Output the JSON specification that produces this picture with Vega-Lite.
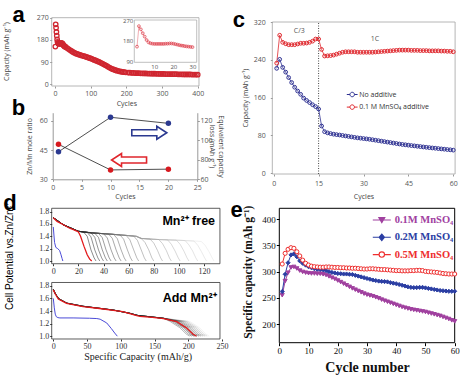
{
"$schema":"https://vega.github.io/schema/vega-lite/v6.json",
"width":472,"height":379,"padding":0,"autosize":{"type":"none"},
"background":"#ffffff",
"config":{"view":{"stroke":null},"axis":{"grid":false,"labelFlush":false,"labelOverlap":false,"domain":false}},
"datasets":{
"a":[{"c":1,"v":153},{"c":2,"v":243},{"c":3,"v":229},{"c":4,"v":212},{"c":5,"v":197},{"c":6,"v":182},{"c":7,"v":172},{"c":8,"v":168},{"c":9,"v":166},{"c":10,"v":165},{"c":11,"v":165},{"c":12,"v":165},{"c":13,"v":165},{"c":14,"v":165},{"c":15,"v":165},{"c":16,"v":166},{"c":17,"v":166},{"c":18,"v":167},{"c":19,"v":167},{"c":20,"v":166},{"c":21,"v":164},{"c":22,"v":162},{"c":23,"v":160},{"c":24,"v":158},{"c":25,"v":157},{"c":26,"v":155},{"c":27,"v":154},{"c":28,"v":153},{"c":29,"v":152},{"c":30,"v":151},{"c":34,"v":147},{"c":38,"v":143},{"c":42,"v":139},{"c":46,"v":135},{"c":50,"v":131},{"c":54,"v":128},{"c":58,"v":125},{"c":62,"v":123},{"c":66,"v":121},{"c":70,"v":119},{"c":74,"v":117},{"c":78,"v":115.5},{"c":82,"v":114},{"c":86,"v":112},{"c":90,"v":110},{"c":94,"v":108},{"c":98,"v":106},{"c":102,"v":104},{"c":106,"v":101.5},{"c":110,"v":99},{"c":114,"v":96.5},{"c":118,"v":94},{"c":122,"v":91.5},{"c":126,"v":89},{"c":130,"v":86},{"c":134,"v":83},{"c":138,"v":80},{"c":142,"v":77},{"c":146,"v":74},{"c":150,"v":70},{"c":154,"v":67},{"c":158,"v":64},{"c":162,"v":61.5},{"c":166,"v":59},{"c":170,"v":57},{"c":174,"v":55},{"c":178,"v":53.5},{"c":182,"v":52},{"c":186,"v":51},{"c":190,"v":50},{"c":194,"v":49},{"c":198,"v":48.5},{"c":205,"v":47.5},{"c":210,"v":47},{"c":215,"v":46.5},{"c":220,"v":46},{"c":225,"v":45.5},{"c":230,"v":45},{"c":235,"v":45},{"c":240,"v":44.5},{"c":245,"v":44.5},{"c":250,"v":44},{"c":255,"v":44},{"c":260,"v":43.5},{"c":265,"v":43.5},{"c":270,"v":43},{"c":275,"v":43},{"c":280,"v":43},{"c":285,"v":42.5},{"c":290,"v":42.5},{"c":295,"v":42},{"c":300,"v":42},{"c":305,"v":42},{"c":310,"v":41.5},{"c":315,"v":41.5},{"c":320,"v":41.5},{"c":325,"v":41},{"c":330,"v":41},{"c":335,"v":41},{"c":340,"v":41},{"c":345,"v":40.5},{"c":350,"v":40.5},{"c":355,"v":40.5},{"c":360,"v":40},{"c":365,"v":40},{"c":370,"v":40},{"c":375,"v":40},{"c":380,"v":40},{"c":385,"v":39.5},{"c":390,"v":39.5},{"c":395,"v":39.5},{"c":400,"v":39}],
"b":[{"n":1,"z":47.9,"l":88.1},{"n":10,"z":34.8,"l":123.5},{"n":20,"z":35.2,"l":117.3}],
"c":[{"n":1,"v":222,"s":"N"},{"n":2,"v":241,"s":"N"},{"n":3,"v":224,"s":"N"},{"n":4,"v":214,"s":"N"},{"n":5,"v":202.5,"s":"N"},{"n":6,"v":192,"s":"N"},{"n":7,"v":182,"s":"N"},{"n":8,"v":174,"s":"N"},{"n":9,"v":167,"s":"N"},{"n":10,"v":159,"s":"N"},{"n":11,"v":154,"s":"N"},{"n":12,"v":149.6,"s":"N"},{"n":13,"v":145,"s":"N"},{"n":14,"v":141,"s":"N"},{"n":15,"v":136,"s":"N"},{"n":16,"v":100,"s":"N"},{"n":17,"v":88,"s":"N"},{"n":18,"v":85.5,"s":"N"},{"n":19,"v":84,"s":"N"},{"n":20,"v":82.7,"s":"N"},{"n":21,"v":81.8,"s":"N"},{"n":22,"v":81,"s":"N"},{"n":23,"v":80,"s":"N"},{"n":24,"v":79,"s":"N"},{"n":25,"v":78,"s":"N"},{"n":26,"v":77,"s":"N"},{"n":27,"v":76,"s":"N"},{"n":28,"v":75,"s":"N"},{"n":29,"v":74.3,"s":"N"},{"n":30,"v":73.5,"s":"N"},{"n":31,"v":72.8,"s":"N"},{"n":32,"v":72,"s":"N"},{"n":33,"v":71,"s":"N"},{"n":34,"v":70,"s":"N"},{"n":35,"v":69,"s":"N"},{"n":36,"v":68,"s":"N"},{"n":37,"v":67,"s":"N"},{"n":38,"v":66,"s":"N"},{"n":39,"v":65,"s":"N"},{"n":40,"v":64,"s":"N"},{"n":41,"v":63,"s":"N"},{"n":42,"v":62,"s":"N"},{"n":43,"v":61,"s":"N"},{"n":44,"v":60.3,"s":"N"},{"n":45,"v":59.5,"s":"N"},{"n":46,"v":58.7,"s":"N"},{"n":47,"v":58,"s":"N"},{"n":48,"v":57.2,"s":"N"},{"n":49,"v":56.5,"s":"N"},{"n":50,"v":55.7,"s":"N"},{"n":51,"v":55,"s":"N"},{"n":52,"v":54.3,"s":"N"},{"n":53,"v":53.6,"s":"N"},{"n":54,"v":53,"s":"N"},{"n":55,"v":52.3,"s":"N"},{"n":56,"v":51.6,"s":"N"},{"n":57,"v":51,"s":"N"},{"n":58,"v":50.3,"s":"N"},{"n":59,"v":49.7,"s":"N"},{"n":60,"v":49,"s":"N"},
{"n":1,"v":233,"s":"M"},{"n":2,"v":292,"s":"M"},{"n":3,"v":277,"s":"M"},{"n":4,"v":274,"s":"M"},{"n":5,"v":272,"s":"M"},{"n":6,"v":272,"s":"M"},{"n":7,"v":272,"s":"M"},{"n":8,"v":273.5,"s":"M"},{"n":9,"v":275,"s":"M"},{"n":10,"v":275,"s":"M"},{"n":11,"v":275.5,"s":"M"},{"n":12,"v":277,"s":"M"},{"n":13,"v":279.5,"s":"M"},{"n":14,"v":284,"s":"M"},{"n":15,"v":284,"s":"M"},{"n":16,"v":262,"s":"M"},{"n":17,"v":248,"s":"M"},{"n":18,"v":248.5,"s":"M"},{"n":19,"v":249,"s":"M"},{"n":20,"v":250,"s":"M"},{"n":21,"v":252,"s":"M"},{"n":22,"v":254,"s":"M"},{"n":23,"v":256,"s":"M"},{"n":24,"v":257,"s":"M"},{"n":25,"v":257,"s":"M"},{"n":26,"v":257,"s":"M"},{"n":27,"v":257,"s":"M"},{"n":28,"v":256,"s":"M"},{"n":29,"v":256,"s":"M"},{"n":30,"v":256,"s":"M"},{"n":31,"v":256,"s":"M"},{"n":32,"v":256,"s":"M"},{"n":33,"v":256,"s":"M"},{"n":34,"v":256.5,"s":"M"},{"n":35,"v":257,"s":"M"},{"n":36,"v":257.5,"s":"M"},{"n":37,"v":258,"s":"M"},{"n":38,"v":258.5,"s":"M"},{"n":39,"v":259,"s":"M"},{"n":40,"v":259.5,"s":"M"},{"n":41,"v":260,"s":"M"},{"n":42,"v":260.5,"s":"M"},{"n":43,"v":260.5,"s":"M"},{"n":44,"v":260.5,"s":"M"},{"n":45,"v":260.5,"s":"M"},{"n":46,"v":260,"s":"M"},{"n":47,"v":260,"s":"M"},{"n":48,"v":260,"s":"M"},{"n":49,"v":259.5,"s":"M"},{"n":50,"v":259.5,"s":"M"},{"n":51,"v":259.5,"s":"M"},{"n":52,"v":259,"s":"M"},{"n":53,"v":259,"s":"M"},{"n":54,"v":259,"s":"M"},{"n":55,"v":259,"s":"M"},{"n":56,"v":258.5,"s":"M"},{"n":57,"v":258.5,"s":"M"},{"n":58,"v":258,"s":"M"},{"n":59,"v":258,"s":"M"},{"n":60,"v":257,"s":"M"}],
"e":[{"n":1,"v":255,"s":"s1"},{"n":2,"v":282,"s":"s1"},{"n":3,"v":298,"s":"s1"},{"n":4,"v":308,"s":"s1"},{"n":5,"v":309,"s":"s1"},{"n":6,"v":306,"s":"s1"},{"n":7,"v":302,"s":"s1"},{"n":8,"v":299.5,"s":"s1"},{"n":9,"v":298,"s":"s1"},{"n":10,"v":297,"s":"s1"},{"n":11,"v":296.5,"s":"s1"},{"n":12,"v":296.5,"s":"s1"},{"n":13,"v":296,"s":"s1"},{"n":14,"v":296,"s":"s1"},{"n":15,"v":295,"s":"s1"},{"n":16,"v":293.5,"s":"s1"},{"n":17,"v":291,"s":"s1"},{"n":18,"v":288.5,"s":"s1"},{"n":19,"v":286,"s":"s1"},{"n":20,"v":283,"s":"s1"},{"n":21,"v":280,"s":"s1"},{"n":22,"v":277,"s":"s1"},{"n":23,"v":274,"s":"s1"},{"n":24,"v":271,"s":"s1"},{"n":25,"v":268,"s":"s1"},{"n":26,"v":265.5,"s":"s1"},{"n":27,"v":263,"s":"s1"},{"n":28,"v":260.5,"s":"s1"},{"n":29,"v":258,"s":"s1"},{"n":30,"v":256,"s":"s1"},{"n":31,"v":254.5,"s":"s1"},{"n":32,"v":253,"s":"s1"},{"n":33,"v":251,"s":"s1"},{"n":34,"v":249,"s":"s1"},{"n":35,"v":246.5,"s":"s1"},{"n":36,"v":244.5,"s":"s1"},{"n":37,"v":242.5,"s":"s1"},{"n":38,"v":240.5,"s":"s1"},{"n":39,"v":238.5,"s":"s1"},{"n":40,"v":236.5,"s":"s1"},{"n":41,"v":234.5,"s":"s1"},{"n":42,"v":232.5,"s":"s1"},{"n":43,"v":231,"s":"s1"},{"n":44,"v":229.5,"s":"s1"},{"n":45,"v":228,"s":"s1"},{"n":46,"v":227,"s":"s1"},{"n":47,"v":226,"s":"s1"},{"n":48,"v":225,"s":"s1"},{"n":49,"v":224,"s":"s1"},{"n":50,"v":223,"s":"s1"},{"n":51,"v":221.5,"s":"s1"},{"n":52,"v":220,"s":"s1"},{"n":53,"v":218.5,"s":"s1"},{"n":54,"v":217,"s":"s1"},{"n":55,"v":215.5,"s":"s1"},{"n":56,"v":213.5,"s":"s1"},{"n":57,"v":211.5,"s":"s1"},{"n":58,"v":209.5,"s":"s1"},{"n":59,"v":207,"s":"s1"},{"n":60,"v":205,"s":"s1"},
{"n":1,"v":262,"s":"s2"},{"n":2,"v":295,"s":"s2"},{"n":3,"v":317,"s":"s2"},{"n":4,"v":332,"s":"s2"},{"n":5,"v":334,"s":"s2"},{"n":6,"v":328.5,"s":"s2"},{"n":7,"v":320.5,"s":"s2"},{"n":8,"v":316,"s":"s2"},{"n":9,"v":312.5,"s":"s2"},{"n":10,"v":309.5,"s":"s2"},{"n":11,"v":307.5,"s":"s2"},{"n":12,"v":305.5,"s":"s2"},{"n":13,"v":304.5,"s":"s2"},{"n":14,"v":304,"s":"s2"},{"n":15,"v":303.5,"s":"s2"},{"n":16,"v":302,"s":"s2"},{"n":17,"v":300,"s":"s2"},{"n":18,"v":298.5,"s":"s2"},{"n":19,"v":297.5,"s":"s2"},{"n":20,"v":296.5,"s":"s2"},{"n":21,"v":296,"s":"s2"},{"n":22,"v":295.5,"s":"s2"},{"n":23,"v":295.5,"s":"s2"},{"n":24,"v":295,"s":"s2"},{"n":25,"v":294.5,"s":"s2"},{"n":26,"v":293,"s":"s2"},{"n":27,"v":291.5,"s":"s2"},{"n":28,"v":290,"s":"s2"},{"n":29,"v":288.5,"s":"s2"},{"n":30,"v":287,"s":"s2"},{"n":31,"v":285.5,"s":"s2"},{"n":32,"v":284,"s":"s2"},{"n":33,"v":283,"s":"s2"},{"n":34,"v":282,"s":"s2"},{"n":35,"v":281.5,"s":"s2"},{"n":36,"v":281,"s":"s2"},{"n":37,"v":280.5,"s":"s2"},{"n":38,"v":279,"s":"s2"},{"n":39,"v":278,"s":"s2"},{"n":40,"v":277,"s":"s2"},{"n":41,"v":275.5,"s":"s2"},{"n":42,"v":274,"s":"s2"},{"n":43,"v":272.5,"s":"s2"},{"n":44,"v":271,"s":"s2"},{"n":45,"v":270,"s":"s2"},{"n":46,"v":269.5,"s":"s2"},{"n":47,"v":269.5,"s":"s2"},{"n":48,"v":270,"s":"s2"},{"n":49,"v":270,"s":"s2"},{"n":50,"v":269,"s":"s2"},{"n":51,"v":268,"s":"s2"},{"n":52,"v":267,"s":"s2"},{"n":53,"v":266,"s":"s2"},{"n":54,"v":265,"s":"s2"},{"n":55,"v":264,"s":"s2"},{"n":56,"v":263.5,"s":"s2"},{"n":57,"v":263,"s":"s2"},{"n":58,"v":262.5,"s":"s2"},{"n":59,"v":262.5,"s":"s2"},{"n":60,"v":262.5,"s":"s2"},
{"n":1,"v":314.6,"s":"s5"},{"n":2,"v":335,"s":"s5"},{"n":3,"v":342.7,"s":"s5"},{"n":4,"v":345.8,"s":"s5"},{"n":5,"v":344.6,"s":"s5"},{"n":6,"v":338,"s":"s5"},{"n":7,"v":330,"s":"s5"},{"n":8,"v":322,"s":"s5"},{"n":9,"v":316,"s":"s5"},{"n":10,"v":312.7,"s":"s5"},{"n":11,"v":310.5,"s":"s5"},{"n":12,"v":309.5,"s":"s5"},{"n":13,"v":309,"s":"s5"},{"n":14,"v":308.5,"s":"s5"},{"n":15,"v":308.5,"s":"s5"},{"n":16,"v":309,"s":"s5"},{"n":17,"v":309,"s":"s5"},{"n":18,"v":308.5,"s":"s5"},{"n":19,"v":308,"s":"s5"},{"n":20,"v":308,"s":"s5"},{"n":21,"v":307.5,"s":"s5"},{"n":22,"v":307.5,"s":"s5"},{"n":23,"v":307,"s":"s5"},{"n":24,"v":307,"s":"s5"},{"n":25,"v":306.5,"s":"s5"},{"n":26,"v":306.5,"s":"s5"},{"n":27,"v":306,"s":"s5"},{"n":28,"v":305.5,"s":"s5"},{"n":29,"v":305,"s":"s5"},{"n":30,"v":305,"s":"s5"},{"n":31,"v":305.5,"s":"s5"},{"n":32,"v":305.5,"s":"s5"},{"n":33,"v":305,"s":"s5"},{"n":34,"v":304.5,"s":"s5"},{"n":35,"v":304,"s":"s5"},{"n":36,"v":304,"s":"s5"},{"n":37,"v":303.5,"s":"s5"},{"n":38,"v":303,"s":"s5"},{"n":39,"v":302.5,"s":"s5"},{"n":40,"v":302,"s":"s5"},{"n":41,"v":302,"s":"s5"},{"n":42,"v":301.5,"s":"s5"},{"n":43,"v":301.5,"s":"s5"},{"n":44,"v":301.5,"s":"s5"},{"n":45,"v":302,"s":"s5"},{"n":46,"v":302,"s":"s5"},{"n":47,"v":302.5,"s":"s5"},{"n":48,"v":302.5,"s":"s5"},{"n":49,"v":302,"s":"s5"},{"n":50,"v":300.5,"s":"s5"},{"n":51,"v":300,"s":"s5"},{"n":52,"v":299.5,"s":"s5"},{"n":53,"v":299,"s":"s5"},{"n":54,"v":298.5,"s":"s5"},{"n":55,"v":297.5,"s":"s5"},{"n":56,"v":296.5,"s":"s5"},{"n":57,"v":296,"s":"s5"},{"n":58,"v":295.5,"s":"s5"},{"n":59,"v":295.5,"s":"s5"},{"n":60,"v":295.5,"s":"s5"}],
"dgt":[
{"g":19,"x":0,"y":1.7},{"g":19,"x":8,"y":1.585},{"g":19,"x":20,"y":1.48},{"g":19,"x":30,"y":1.455},{"g":19,"x":45,"y":1.435},{"g":19,"x":60,"y":1.41},{"g":19,"x":66,"y":1.4},{"g":19,"x":70,"y":1.365},{"g":19,"x":80,"y":1.35},{"g":19,"x":100,"y":1.335},{"g":19,"x":115,"y":1.32},{"g":19,"x":118,"y":1.314},{"g":19,"x":121,"y":1.25},{"g":19,"x":124,"y":1.15},{"g":19,"x":126.5,"y":1.05},{"g":19,"x":128,"y":1.0},
{"g":18,"x":0,"y":1.7},{"g":18,"x":8,"y":1.585},{"g":18,"x":20,"y":1.48},{"g":18,"x":30,"y":1.455},{"g":18,"x":45,"y":1.435},{"g":18,"x":60,"y":1.41},{"g":18,"x":66,"y":1.4},{"g":18,"x":70,"y":1.365},{"g":18,"x":80,"y":1.35},{"g":18,"x":100,"y":1.335},{"g":18,"x":112,"y":1.323},{"g":18,"x":115,"y":1.255},{"g":18,"x":118,"y":1.15},{"g":18,"x":120.5,"y":1.05},{"g":18,"x":122,"y":1.0},
{"g":17,"x":0,"y":1.7},{"g":17,"x":8,"y":1.585},{"g":17,"x":20,"y":1.48},{"g":17,"x":30,"y":1.455},{"g":17,"x":45,"y":1.435},{"g":17,"x":60,"y":1.41},{"g":17,"x":66,"y":1.4},{"g":17,"x":70,"y":1.365},{"g":17,"x":80,"y":1.35},{"g":17,"x":100,"y":1.335},{"g":17,"x":105,"y":1.33},{"g":17,"x":108,"y":1.26},{"g":17,"x":111,"y":1.16},{"g":17,"x":113.5,"y":1.05},{"g":17,"x":115,"y":1.0},
{"g":16,"x":0,"y":1.7},{"g":16,"x":8,"y":1.585},{"g":16,"x":20,"y":1.48},{"g":16,"x":30,"y":1.455},{"g":16,"x":45,"y":1.435},{"g":16,"x":60,"y":1.41},{"g":16,"x":66,"y":1.4},{"g":16,"x":70,"y":1.365},{"g":16,"x":80,"y":1.35},{"g":16,"x":98,"y":1.337},{"g":16,"x":101,"y":1.27},{"g":16,"x":104,"y":1.16},{"g":16,"x":106.5,"y":1.05},{"g":16,"x":108,"y":1.0},
{"g":15,"x":0,"y":1.7},{"g":15,"x":8,"y":1.585},{"g":15,"x":20,"y":1.48},{"g":15,"x":30,"y":1.455},{"g":15,"x":45,"y":1.435},{"g":15,"x":60,"y":1.41},{"g":15,"x":66,"y":1.4},{"g":15,"x":70,"y":1.365},{"g":15,"x":80,"y":1.35},{"g":15,"x":91,"y":1.342},{"g":15,"x":94,"y":1.27},{"g":15,"x":97,"y":1.16},{"g":15,"x":99.5,"y":1.05},{"g":15,"x":101,"y":1.0},
{"g":14,"x":0,"y":1.7},{"g":14,"x":8,"y":1.585},{"g":14,"x":20,"y":1.48},{"g":14,"x":30,"y":1.455},{"g":14,"x":45,"y":1.435},{"g":14,"x":60,"y":1.41},{"g":14,"x":66,"y":1.4},{"g":14,"x":70,"y":1.365},{"g":14,"x":84,"y":1.347},{"g":14,"x":87,"y":1.28},{"g":14,"x":90,"y":1.17},{"g":14,"x":92.5,"y":1.05},{"g":14,"x":94,"y":1.0},
{"g":13,"x":0,"y":1.7},{"g":13,"x":8,"y":1.585},{"g":13,"x":20,"y":1.48},{"g":13,"x":30,"y":1.455},{"g":13,"x":45,"y":1.435},{"g":13,"x":60,"y":1.41},{"g":13,"x":66,"y":1.4},{"g":13,"x":70,"y":1.365},{"g":13,"x":77,"y":1.355},{"g":13,"x":80,"y":1.29},{"g":13,"x":83,"y":1.17},{"g":13,"x":85.5,"y":1.05},{"g":13,"x":87,"y":1.0},
{"g":12,"x":0,"y":1.7},{"g":12,"x":8,"y":1.585},{"g":12,"x":20,"y":1.48},{"g":12,"x":30,"y":1.455},{"g":12,"x":45,"y":1.435},{"g":12,"x":60,"y":1.41},{"g":12,"x":66,"y":1.4},{"g":12,"x":70,"y":1.365},{"g":12,"x":73,"y":1.3},{"g":12,"x":76,"y":1.18},{"g":12,"x":78.5,"y":1.05},{"g":12,"x":80,"y":1.0},
{"g":11,"x":0,"y":1.7},{"g":11,"x":8,"y":1.585},{"g":11,"x":20,"y":1.48},{"g":11,"x":30,"y":1.455},{"g":11,"x":45,"y":1.435},{"g":11,"x":60,"y":1.41},{"g":11,"x":64,"y":1.403},{"g":11,"x":67,"y":1.333},{"g":11,"x":70,"y":1.18},{"g":11,"x":72.5,"y":1.05},{"g":11,"x":74,"y":1.0},
{"g":10,"x":0,"y":1.7},{"g":10,"x":8,"y":1.585},{"g":10,"x":20,"y":1.48},{"g":10,"x":30,"y":1.455},{"g":10,"x":45,"y":1.435},{"g":10,"x":58,"y":1.413},{"g":10,"x":61,"y":1.343},{"g":10,"x":64,"y":1.18},{"g":10,"x":66.5,"y":1.05},{"g":10,"x":68,"y":1.0},
{"g":9,"x":0,"y":1.7},{"g":9,"x":8,"y":1.585},{"g":9,"x":20,"y":1.48},{"g":9,"x":30,"y":1.455},{"g":9,"x":45,"y":1.435},{"g":9,"x":53,"y":1.423},{"g":9,"x":56,"y":1.353},{"g":9,"x":59,"y":1.18},{"g":9,"x":61.5,"y":1.05},{"g":9,"x":63,"y":1.0},
{"g":8,"x":0,"y":1.7},{"g":8,"x":8,"y":1.585},{"g":8,"x":20,"y":1.48},{"g":8,"x":30,"y":1.455},{"g":8,"x":48,"y":1.43},{"g":8,"x":51,"y":1.36},{"g":8,"x":54,"y":1.18},{"g":8,"x":56.5,"y":1.05},{"g":8,"x":58,"y":1.0},
{"g":7,"x":0,"y":1.7},{"g":7,"x":8,"y":1.585},{"g":7,"x":20,"y":1.48},{"g":7,"x":30,"y":1.455},{"g":7,"x":44,"y":1.436},{"g":7,"x":47,"y":1.366},{"g":7,"x":50,"y":1.18},{"g":7,"x":52.5,"y":1.05},{"g":7,"x":54,"y":1.0},
{"g":6,"x":0,"y":1.7},{"g":6,"x":8,"y":1.585},{"g":6,"x":20,"y":1.48},{"g":6,"x":30,"y":1.455},{"g":6,"x":40,"y":1.442},{"g":6,"x":43,"y":1.372},{"g":6,"x":46,"y":1.18},{"g":6,"x":48.5,"y":1.05},{"g":6,"x":50,"y":1.0},
{"g":5,"x":0,"y":1.7},{"g":5,"x":8,"y":1.585},{"g":5,"x":20,"y":1.48},{"g":5,"x":36,"y":1.447},{"g":5,"x":39,"y":1.377},{"g":5,"x":42,"y":1.18},{"g":5,"x":44.5,"y":1.05},{"g":5,"x":46,"y":1.0},
{"g":4,"x":0,"y":1.7},{"g":4,"x":8,"y":1.585},{"g":4,"x":20,"y":1.48},{"g":4,"x":33,"y":1.45},{"g":4,"x":36,"y":1.38},{"g":4,"x":39,"y":1.18},{"g":4,"x":41.5,"y":1.05},{"g":4,"x":43,"y":1.0},
{"g":3,"x":0,"y":1.7},{"g":3,"x":8,"y":1.585},{"g":3,"x":20,"y":1.48},{"g":3,"x":30,"y":1.455},{"g":3,"x":33,"y":1.385},{"g":3,"x":36,"y":1.18},{"g":3,"x":38.5,"y":1.05},{"g":3,"x":40,"y":1.0},
{"g":2,"x":0,"y":1.7},{"g":2,"x":8,"y":1.585},{"g":2,"x":20,"y":1.48},{"g":2,"x":27,"y":1.462},{"g":2,"x":30,"y":1.39},{"g":2,"x":33,"y":1.18},{"g":2,"x":35.5,"y":1.05},{"g":2,"x":37,"y":1.0},
{"g":1,"x":0,"y":1.7},{"g":1,"x":8,"y":1.585},{"g":1,"x":20,"y":1.48},{"g":1,"x":24,"y":1.47},{"g":1,"x":27,"y":1.4},{"g":1,"x":30,"y":1.18},{"g":1,"x":32.5,"y":1.05},{"g":1,"x":34,"y":1.0}],
"dgb":[
{"g":19,"x":0,"y":1.745},{"g":19,"x":3,"y":1.675},{"g":19,"x":8,"y":1.595},{"g":19,"x":20,"y":1.525},{"g":19,"x":44,"y":1.475},{"g":19,"x":89,"y":1.415},{"g":19,"x":113,"y":1.365},{"g":19,"x":125,"y":1.33},{"g":19,"x":163,"y":1.285},{"g":19,"x":202,"y":1.235},{"g":19,"x":216.5,"y":1.135},{"g":19,"x":226,"y":1.035},{"g":19,"x":231,"y":1.0},
{"g":16,"x":0,"y":1.745},{"g":16,"x":3,"y":1.675},{"g":16,"x":8,"y":1.595},{"g":16,"x":20,"y":1.525},{"g":16,"x":44,"y":1.475},{"g":16,"x":89,"y":1.415},{"g":16,"x":113,"y":1.365},{"g":16,"x":125,"y":1.33},{"g":16,"x":163,"y":1.285},{"g":16,"x":199,"y":1.235},{"g":16,"x":213.5,"y":1.135},{"g":16,"x":223,"y":1.035},{"g":16,"x":228,"y":1.0},
{"g":13,"x":0,"y":1.745},{"g":13,"x":3,"y":1.675},{"g":13,"x":8,"y":1.595},{"g":13,"x":20,"y":1.525},{"g":13,"x":44,"y":1.475},{"g":13,"x":89,"y":1.415},{"g":13,"x":113,"y":1.365},{"g":13,"x":125,"y":1.33},{"g":13,"x":163,"y":1.285},{"g":13,"x":196,"y":1.235},{"g":13,"x":210.5,"y":1.135},{"g":13,"x":220,"y":1.035},{"g":13,"x":225,"y":1.0},
{"g":11,"x":0,"y":1.745},{"g":11,"x":3,"y":1.675},{"g":11,"x":8,"y":1.595},{"g":11,"x":20,"y":1.525},{"g":11,"x":44,"y":1.475},{"g":11,"x":89,"y":1.415},{"g":11,"x":113,"y":1.365},{"g":11,"x":125,"y":1.33},{"g":11,"x":163,"y":1.285},{"g":11,"x":193,"y":1.235},{"g":11,"x":207.5,"y":1.135},{"g":11,"x":217,"y":1.035},{"g":11,"x":222,"y":1.0},
{"g":9,"x":0,"y":1.745},{"g":9,"x":3,"y":1.675},{"g":9,"x":8,"y":1.595},{"g":9,"x":20,"y":1.525},{"g":9,"x":44,"y":1.475},{"g":9,"x":89,"y":1.415},{"g":9,"x":113,"y":1.365},{"g":9,"x":125,"y":1.33},{"g":9,"x":163,"y":1.285},{"g":9,"x":173,"y":1.235},{"g":9,"x":187.5,"y":1.135},{"g":9,"x":197,"y":1.035},{"g":9,"x":202,"y":1.0},
{"g":7,"x":0,"y":1.745},{"g":7,"x":3,"y":1.675},{"g":7,"x":8,"y":1.595},{"g":7,"x":20,"y":1.525},{"g":7,"x":44,"y":1.475},{"g":7,"x":89,"y":1.415},{"g":7,"x":113,"y":1.365},{"g":7,"x":125,"y":1.33},{"g":7,"x":163,"y":1.285},{"g":7,"x":190,"y":1.235},{"g":7,"x":204.5,"y":1.135},{"g":7,"x":214,"y":1.035},{"g":7,"x":219,"y":1.0},
{"g":6,"x":0,"y":1.745},{"g":6,"x":3,"y":1.675},{"g":6,"x":8,"y":1.595},{"g":6,"x":20,"y":1.525},{"g":6,"x":44,"y":1.475},{"g":6,"x":89,"y":1.415},{"g":6,"x":113,"y":1.365},{"g":6,"x":125,"y":1.33},{"g":6,"x":163,"y":1.285},{"g":6,"x":176,"y":1.235},{"g":6,"x":190.5,"y":1.135},{"g":6,"x":200,"y":1.035},{"g":6,"x":205,"y":1.0},
{"g":4,"x":0,"y":1.745},{"g":4,"x":3,"y":1.675},{"g":4,"x":8,"y":1.595},{"g":4,"x":20,"y":1.525},{"g":4,"x":44,"y":1.475},{"g":4,"x":89,"y":1.415},{"g":4,"x":113,"y":1.365},{"g":4,"x":125,"y":1.33},{"g":4,"x":163,"y":1.285},{"g":4,"x":187,"y":1.235},{"g":4,"x":201.5,"y":1.135},{"g":4,"x":211,"y":1.035},{"g":4,"x":216,"y":1.0},
{"g":3,"x":0,"y":1.745},{"g":3,"x":3,"y":1.675},{"g":3,"x":8,"y":1.595},{"g":3,"x":20,"y":1.525},{"g":3,"x":44,"y":1.475},{"g":3,"x":89,"y":1.415},{"g":3,"x":113,"y":1.365},{"g":3,"x":125,"y":1.33},{"g":3,"x":163,"y":1.285},{"g":3,"x":179,"y":1.235},{"g":3,"x":193.5,"y":1.135},{"g":3,"x":203,"y":1.035},{"g":3,"x":208,"y":1.0},
{"g":2,"x":0,"y":1.745},{"g":2,"x":3,"y":1.675},{"g":2,"x":8,"y":1.595},{"g":2,"x":20,"y":1.525},{"g":2,"x":44,"y":1.475},{"g":2,"x":89,"y":1.415},{"g":2,"x":113,"y":1.365},{"g":2,"x":125,"y":1.33},{"g":2,"x":163,"y":1.285},{"g":2,"x":184,"y":1.235},{"g":2,"x":198.5,"y":1.135},{"g":2,"x":208,"y":1.035},{"g":2,"x":213,"y":1.0},
{"g":1,"x":0,"y":1.745},{"g":1,"x":3,"y":1.675},{"g":1,"x":8,"y":1.595},{"g":1,"x":20,"y":1.525},{"g":1,"x":44,"y":1.475},{"g":1,"x":89,"y":1.415},{"g":1,"x":113,"y":1.365},{"g":1,"x":125,"y":1.33},{"g":1,"x":163,"y":1.285},{"g":1,"x":181,"y":1.235},{"g":1,"x":195.5,"y":1.135},{"g":1,"x":205,"y":1.035},{"g":1,"x":210,"y":1.0}],
"dc":[
{"p":"T","s":"r","x":0,"y":1.7},{"p":"T","s":"r","x":3,"y":1.64},{"p":"T","s":"r","x":8,"y":1.585},{"p":"T","s":"r","x":13,"y":1.53},{"p":"T","s":"r","x":17,"y":1.5},{"p":"T","s":"r","x":20,"y":1.47},{"p":"T","s":"r","x":21.7,"y":1.4},{"p":"T","s":"r","x":24.4,"y":1.24},{"p":"T","s":"r","x":27,"y":1.1},{"p":"T","s":"r","x":29,"y":1.03},{"p":"T","s":"r","x":30.6,"y":1.0},
{"p":"T","s":"b","x":0,"y":1.55},{"p":"T","s":"b","x":0.5,"y":1.42},{"p":"T","s":"b","x":1,"y":1.3},{"p":"T","s":"b","x":2,"y":1.22},{"p":"T","s":"b","x":3.5,"y":1.2},{"p":"T","s":"b","x":5,"y":1.17},{"p":"T","s":"b","x":6,"y":1.11},{"p":"T","s":"b","x":7,"y":1.04},{"p":"T","s":"b","x":7.6,"y":1.0},
{"p":"B","s":"r","x":0,"y":1.735},{"p":"B","s":"r","x":2.9,"y":1.67},{"p":"B","s":"r","x":7.4,"y":1.59},{"p":"B","s":"r","x":19.6,"y":1.52},{"p":"B","s":"r","x":44,"y":1.47},{"p":"B","s":"r","x":68.5,"y":1.44},{"p":"B","s":"r","x":89,"y":1.41},{"p":"B","s":"r","x":102.7,"y":1.39},{"p":"B","s":"r","x":113.4,"y":1.36},{"p":"B","s":"r","x":122.3,"y":1.33},{"p":"B","s":"r","x":128.1,"y":1.315},{"p":"B","s":"r","x":146.7,"y":1.3},{"p":"B","s":"r","x":163.3,"y":1.28},{"p":"B","s":"r","x":182.9,"y":1.23},{"p":"B","s":"r","x":197.6,"y":1.13},{"p":"B","s":"r","x":207.3,"y":1.03},{"p":"B","s":"r","x":212.2,"y":1.0},
{"p":"B","s":"b","x":0,"y":1.6},{"p":"B","s":"b","x":1.5,"y":1.45},{"p":"B","s":"b","x":2.9,"y":1.35},{"p":"B","s":"b","x":4.4,"y":1.31},{"p":"B","s":"b","x":6.8,"y":1.295},{"p":"B","s":"b","x":9.8,"y":1.29},{"p":"B","s":"b","x":29.3,"y":1.29},{"p":"B","s":"b","x":53.8,"y":1.285},{"p":"B","s":"b","x":64.5,"y":1.28},{"p":"B","s":"b","x":69.4,"y":1.27},{"p":"B","s":"b","x":79.2,"y":1.21},{"p":"B","s":"b","x":86.1,"y":1.12},{"p":"B","s":"b","x":91,"y":1.05},{"p":"B","s":"b","x":94.9,"y":1.0}]
},
"resolve":{"scale":{"x":"independent","y":"independent","color":"independent","fill":"independent","stroke":"independent","shape":"independent"},"axis":{"x":"independent","y":"independent"}},
"layer":[
{"layer":[
 {"data":{"values":[{}]},"mark":{"type":"rect","fillOpacity":0,"stroke":"#a3a3a3","strokeWidth":0.8},
  "encoding":{
   "x":{"datum":-9.25,"type":"quantitative","scale":{"domain":[0,400],"range":[55,197.7],"nice":false,"zero":false},
        "axis":{"orient":"bottom","offset":-293,"values":[0,100,200,300,400],"tickSize":2,"tickColor":"#999","labelFont":"Open Sans","labelFontSize":7,"labelColor":"#555","labelPadding":1.5,"title":"Cycles","titleFont":"Open Sans","titleFontSize":7,"titleFontWeight":"normal","titleColor":"#444","titleY":17.3,"titleBaseline":"middle"}},
   "x2":{"datum":403.6},
   "y":{"datum":-6.9,"type":"quantitative","scale":{"domain":[0,270],"range":[84.3,17.7],"nice":false,"zero":false},
        "axis":{"orient":"left","offset":-51.7,"values":[0,90,180,270],"tickSize":2,"tickColor":"#999","labelFont":"Open Sans","labelFontSize":7,"labelColor":"#555","labelPadding":1.5,"title":"Capacity (mAh g⁻¹)","titleFont":"Open Sans","titleFontSize":7,"titleFontWeight":"normal","titleColor":"#444","titleX":-45,"titleBaseline":"middle"}},
   "y2":{"datum":270}}},
 {"data":{"name":"a"},"mark":{"type":"point","filled":false,"size":20,"strokeWidth":1.3,"color":"#cf2630","opacity":1},
  "encoding":{"x":{"field":"c","type":"quantitative"},"y":{"field":"v","type":"quantitative"}}},
 {"data":{"values":[{}]},"mark":{"type":"text","text":"a","font":"Liberation Sans","fontSize":22,"fontWeight":"bold","align":"center","baseline":"alphabetic","color":"#000"},
  "encoding":{"x":{"datum":-102.3,"type":"quantitative"},"y":{"datum":253.8,"type":"quantitative"}}}
]},
{"layer":[
 {"data":{"values":[{}]},"mark":{"type":"rect","fillOpacity":0,"stroke":"#a3a3a3","strokeWidth":0.7},
  "encoding":{
   "x":{"datum":-0.42,"type":"quantitative","scale":{"domain":[0,30],"range":[135.1,192.5],"nice":false,"zero":false},
        "axis":{"orient":"bottom","offset":-316.7,"values":[10,20,30],"tickSize":0,"labelFont":"Open Sans","labelFontSize":6,"labelColor":"#555","labelPadding":1,"title":null}},
   "x2":{"datum":32.2},
   "y":{"datum":84.3,"type":"quantitative","scale":{"domain":[90,270],"range":[61,20],"nice":false,"zero":false},
        "axis":{"orient":"left","offset":-134.3,"values":[90,180,270],"tickSize":0,"labelFont":"Open Sans","labelFontSize":6,"labelColor":"#555","labelPadding":1.5,"title":null}},
   "y2":{"datum":270}}},
 {"data":{"name":"a"},"transform":[{"filter":"datum.c <= 30"}],"mark":{"type":"line","color":"#e98a92","strokeWidth":0.7},
  "encoding":{"x":{"field":"c","type":"quantitative"},"y":{"field":"v","type":"quantitative"}}},
 {"data":{"name":"a"},"transform":[{"filter":"datum.c <= 30"}],"mark":{"type":"point","filled":false,"size":8,"strokeWidth":0.7,"color":"#dd3a46","opacity":1},
  "encoding":{"x":{"field":"c","type":"quantitative"},"y":{"field":"v","type":"quantitative"}}}
]},
{"resolve":{"scale":{"y":"independent"},"axis":{"y":"independent"}},
 "layer":[
 {"layer":[
  {"data":{"name":"b"},"mark":{"type":"line","color":"#222","strokeWidth":0.8},
   "encoding":{
    "x":{"field":"n","type":"quantitative","scale":{"domain":[0,25],"range":[52.7,197.3],"nice":false,"zero":false},
         "axis":{"orient":"bottom","offset":-199.7,"values":[0,5,10,15,20,25],"domain":true,"domainColor":"#999","tickSize":2,"tickColor":"#999","labelFont":"Open Sans","labelFontSize":7,"labelColor":"#555","labelPadding":2.5,"title":"Cycles","titleFont":"Open Sans","titleFontSize":7,"titleFontWeight":"normal","titleColor":"#444","titleY":17,"titleBaseline":"middle"}},
    "y":{"field":"z","type":"quantitative","scale":{"domain":[30,64.1],"range":[179.3,112.7],"nice":false,"zero":false},
         "axis":{"orient":"left","offset":-52.7,"values":[30,45,60],"domain":true,"domainColor":"#999","tickSize":2,"tickColor":"#999","labelFont":"Open Sans","labelFontSize":7,"labelColor":"#555","labelPadding":3.5,"title":"Zn/Mn mole ratio","titleFont":"Open Sans","titleFontSize":7,"titleFontWeight":"normal","titleColor":"#444","titleX":-23.4,"titleBaseline":"middle"}}}},
  {"data":{"name":"b"},"mark":{"type":"point","filled":true,"size":30,"color":"#d7191f","opacity":1},
   "encoding":{"x":{"field":"n","type":"quantitative"},"y":{"field":"z","type":"quantitative"}}},
  {"data":{"values":[{}]},"mark":{"type":"point","shape":"M1,-0.17L-0.43,-0.17L-0.43,-0.37L-1,0L-0.43,0.37L-0.43,0.17L1,0.17Z","size":1225,"filled":true,"fill":"#ffffff","stroke":"#e0262c","strokeWidth":1.6,"opacity":1},
   "encoding":{"x":{"datum":13.2,"type":"quantitative"},"y":{"datum":39.9,"type":"quantitative"}}},
  {"data":{"values":[{}]},"mark":{"type":"text","text":"b","font":"Liberation Sans","fontSize":22,"fontWeight":"bold","align":"center","baseline":"alphabetic","color":"#000"},
   "encoding":{"x":{"datum":-5.91,"type":"quantitative"},"y":{"datum":62.9,"type":"quantitative"}}}
 ]},
 {"layer":[
  {"data":{"name":"b"},"mark":{"type":"line","color":"#222","strokeWidth":0.8},
   "encoding":{
    "x":{"field":"n","type":"quantitative"},
    "y":{"field":"l","type":"quantitative","scale":{"domain":[60,128.2],"range":[179.3,112.7],"nice":false,"zero":false},
         "axis":{"orient":"right","offset":-274.7,"values":[60,80,100,120],"domain":true,"domainColor":"#999","tickSize":2,"tickColor":"#999","labelFont":"Open Sans","labelFontSize":7,"labelColor":"#555","labelPadding":0.7,"title":["Equivalent capacity","loss (mAh g⁻¹)"],"titleFont":"Open Sans","titleFontSize":7,"titleFontWeight":"normal","titleColor":"#444","titleX":22.7,"titleBaseline":"middle"}}}},
  {"data":{"name":"b"},"mark":{"type":"point","filled":true,"size":30,"color":"#2b3990","opacity":1},
   "encoding":{"x":{"field":"n","type":"quantitative"},"y":{"field":"l","type":"quantitative"}}},
  {"data":{"values":[{}]},"mark":{"type":"point","shape":"M-1,-0.17L0.43,-0.17L0.43,-0.37L1,0L0.43,0.37L0.43,0.17L-1,0.17Z","size":1225,"filled":true,"fill":"#ffffff","stroke":"#2b3990","strokeWidth":1.6,"opacity":1},
   "encoding":{"x":{"datum":16.7,"type":"quantitative"},"y":{"datum":107.7,"type":"quantitative"}}}
 ]}
]},
{"layer":[
 {"data":{"values":[{}]},"mark":{"type":"rect","fillOpacity":0,"stroke":"#a3a3a3","strokeWidth":0.8},
  "encoding":{
   "x":{"datum":-0.46,"type":"quantitative","scale":{"domain":[0,60],"range":[273.7,453.3],"nice":false,"zero":false},
        "axis":{"orient":"bottom","offset":-205,"values":[0,15,30,45,60],"tickSize":2,"tickColor":"#999","labelFont":"Open Sans","labelFontSize":7,"labelColor":"#555","labelPadding":3,"title":"Cycles","titleFont":"Open Sans","titleFontSize":7,"titleFontWeight":"normal","titleColor":"#444","titleY":22,"titleBaseline":"middle"}},
   "x2":{"datum":60.6},
   "y":{"datum":-1.5,"type":"quantitative","scale":{"domain":[0,320],"range":[173.3,22],"nice":false,"zero":false},
        "axis":{"orient":"left","offset":-272.3,"values":[0,80,160,240,320],"tickSize":2,"tickColor":"#999","labelFont":"Open Sans","labelFontSize":7,"labelColor":"#555","labelPadding":5,"title":"Capacity (mAh g⁻¹)","titleFont":"Open Sans","titleFontSize":7,"titleFontWeight":"normal","titleColor":"#444","titleX":-26.3,"titleBaseline":"middle"}},
   "y2":{"datum":320}}},
 {"data":{"values":[{}]},"mark":{"type":"rule","strokeDash":[1,1.5],"color":"#333","strokeWidth":0.9},
  "encoding":{"x":{"datum":15,"type":"quantitative"},"y":{"datum":-1.5,"type":"quantitative"},"y2":{"datum":320}}},
 {"data":{"name":"c"},"mark":{"type":"line","strokeWidth":0.8},
  "encoding":{"x":{"field":"n","type":"quantitative"},"y":{"field":"v","type":"quantitative"},
   "color":{"field":"s","type":"nominal","scale":{"domain":["N","M"],"range":["#2e3192","#e0282e"]}}}},
 {"data":{"name":"c"},"mark":{"type":"point","filled":false,"size":14,"strokeWidth":1,"opacity":1},
  "encoding":{"x":{"field":"n","type":"quantitative"},"y":{"field":"v","type":"quantitative"},
   "color":{"field":"s","type":"nominal","legend":{"orient":"none","legendX":348.7,"legendY":91,"title":null,"padding":0,"symbolSize":36,
     "symbolType":"M-1.8,0L-0.75,0M0.75,0L1.8,0M-0.75,0A0.75,0.75,0,1,0,0.75,0A0.75,0.75,0,1,0,-0.75,0Z","symbolFillColor":"#ffffff","symbolStrokeWidth":1,"symbolOpacity":1,
     "labelFont":"Open Sans","labelFontSize":7,"labelColor":"#333","labelOffset":3.5,"rowPadding":3.6,
     "labelExpr":"datum.value == 'N' ? 'No additive' : '0.1 M MnSO₄ additive'"}}}},
 {"data":{"values":[{}]},"mark":{"type":"text","text":"C/3","font":"Open Sans","fontSize":7,"color":"#555","align":"center","baseline":"middle"},
  "encoding":{"x":{"datum":8.55,"type":"quantitative"},"y":{"datum":301.6,"type":"quantitative"}}},
 {"data":{"values":[{}]},"mark":{"type":"text","text":"1C","font":"Open Sans","fontSize":7,"color":"#555","align":"center","baseline":"middle"},
  "encoding":{"x":{"datum":33.8,"type":"quantitative"},"y":{"datum":284,"type":"quantitative"}}},
 {"data":{"values":[{}]},"mark":{"type":"text","text":"c","font":"Liberation Sans","fontSize":22,"fontWeight":"bold","align":"center","baseline":"alphabetic","color":"#000"},
  "encoding":{"x":{"datum":-11.6,"type":"quantitative"},"y":{"datum":309.4,"type":"quantitative"}}}
]},
{"layer":[
 {"data":{"values":[{}]},"mark":{"type":"rect","fillOpacity":0,"stroke":"#333","strokeWidth":0.8},
  "encoding":{
   "x":{"datum":-1.3,"type":"quantitative","scale":{"domain":[0,120],"range":[53.3,204],"nice":false,"zero":false},
        "axis":{"orient":"bottom","offset":-115.3,"values":[0,20,40,60,80,100,120],"tickSize":2,"tickColor":"#333","labelFont":"Liberation Serif","labelFontSize":8,"labelColor":"#333","labelPadding":1.5,"title":null}},
   "x2":{"datum":132.7},
   "y":{"datum":0.956,"type":"quantitative","scale":{"domain":[1,1.8],"range":[261,211.5],"nice":false,"zero":false},
        "axis":{"orient":"left","offset":-51.7,"values":[1,1.2,1.4,1.6,1.8],"format":".1f","tickSize":2,"tickColor":"#333","labelFont":"Liberation Serif","labelFontSize":8,"labelColor":"#333","labelPadding":1,"title":"Cell Potential vs.Zn/Zn²⁺","titleFont":"Liberation Sans","titleFontSize":10,"titleFontWeight":"normal","titleColor":"#000","titleX":-42.7,"titleY":256,"titleBaseline":"middle"}},
   "y2":{"datum":1.852}}},
 {"data":{"name":"dgt"},"mark":{"type":"line","strokeWidth":0.6,"opacity":0.85},
  "encoding":{"x":{"field":"x","type":"quantitative"},"y":{"field":"y","type":"quantitative"},"detail":{"field":"g","type":"nominal"},
   "color":{"field":"g","type":"quantitative","scale":{"domain":[1,19],"range":["#1a1a1a","#e3e3e3"]},"legend":null}}},
 {"data":{"name":"dc"},"transform":[{"filter":"datum.p == 'T' && datum.s == 'r'"}],"mark":{"type":"line","color":"#e31a1c","strokeWidth":1.3},
  "encoding":{"x":{"field":"x","type":"quantitative"},"y":{"field":"y","type":"quantitative"}}},
 {"data":{"name":"dc"},"transform":[{"filter":"datum.p == 'T' && datum.s == 'b'"}],"mark":{"type":"line","color":"#4b4bd8","strokeWidth":1},
  "encoding":{"x":{"field":"x","type":"quantitative"},"y":{"field":"y","type":"quantitative"}}},
 {"data":{"values":[{}]},"mark":{"type":"text","text":"Mn²⁺ free","font":"Liberation Sans","fontSize":12.5,"fontWeight":"bold","align":"right","baseline":"middle","color":"#000"},
  "encoding":{"x":{"datum":128.8,"type":"quantitative"},"y":{"datum":1.651,"type":"quantitative"}}},
 {"data":{"values":[{}]},"mark":{"type":"text","text":"d","font":"Liberation Sans","fontSize":22,"fontWeight":"bold","align":"center","baseline":"alphabetic","color":"#000"},
  "encoding":{"x":{"datum":-34.5,"type":"quantitative"},"y":{"datum":1.824,"type":"quantitative"}}}
]},
{"layer":[
 {"data":{"values":[{}]},"mark":{"type":"rect","fillOpacity":0,"stroke":"#333","strokeWidth":0.8},
  "encoding":{
   "x":{"datum":-2.37,"type":"quantitative","scale":{"domain":[0,250],"range":[53.3,222],"nice":false,"zero":false},
        "axis":{"orient":"bottom","offset":-40,"values":[0,50,100,150,200,250],"tickSize":2,"tickColor":"#333","labelFont":"Liberation Serif","labelFontSize":8,"labelColor":"#333","labelPadding":1.7,"title":"Specific Capacity (mAh/g)","titleFont":"Liberation Serif","titleFontSize":10,"titleFontWeight":"normal","titleColor":"#222","titleY":17.7,"titleBaseline":"middle"}},
   "x2":{"datum":247},
   "y":{"datum":0.9556,"type":"quantitative","scale":{"domain":[1,1.8],"range":[336.2,285.8],"nice":false,"zero":false},
        "axis":{"orient":"left","offset":-51.7,"values":[1,1.2,1.4,1.6,1.8],"format":".1f","tickSize":2,"tickColor":"#333","labelFont":"Liberation Serif","labelFontSize":8,"labelColor":"#333","labelPadding":1,"title":null}},
   "y2":{"datum":1.8524}}},
 {"data":{"name":"dgb"},"mark":{"type":"line","strokeWidth":0.6,"opacity":0.85},
  "encoding":{"x":{"field":"x","type":"quantitative"},"y":{"field":"y","type":"quantitative"},"detail":{"field":"g","type":"nominal"},
   "color":{"field":"g","type":"quantitative","scale":{"domain":[1,19],"range":["#1a1a1a","#e3e3e3"]},"legend":null}}},
 {"data":{"name":"dc"},"transform":[{"filter":"datum.p == 'B' && datum.s == 'r'"}],"mark":{"type":"line","color":"#e31a1c","strokeWidth":1.3},
  "encoding":{"x":{"field":"x","type":"quantitative"},"y":{"field":"y","type":"quantitative"}}},
 {"data":{"name":"dc"},"transform":[{"filter":"datum.p == 'B' && datum.s == 'b'"}],"mark":{"type":"line","color":"#4b4bd8","strokeWidth":1},
  "encoding":{"x":{"field":"x","type":"quantitative"},"y":{"field":"y","type":"quantitative"}}},
 {"data":{"values":[{}]},"mark":{"type":"text","text":"Add Mn²⁺","font":"Liberation Sans","fontSize":12.5,"fontWeight":"bold","align":"right","baseline":"middle","color":"#000"},
  "encoding":{"x":{"datum":242.1,"type":"quantitative"},"y":{"datum":1.6,"type":"quantitative"}}}
]},
{"layer":[
 {"data":{"values":[{}]},"mark":{"type":"rect","fillOpacity":0,"stroke":"#000","strokeWidth":1},
  "encoding":{
   "x":{"datum":0,"type":"quantitative","scale":{"domain":[0,60],"range":[279.3,454.7],"nice":false,"zero":false},
        "axis":{"orient":"bottom","offset":-36.3,"values":[0,10,20,30,40,50,60],"tickSize":3,"tickColor":"#000","labelFont":"Liberation Serif","labelFontSize":9,"labelColor":"#111","labelPadding":1,"title":"Cycle number","titleFont":"Liberation Serif","titleFontSize":14,"titleFontWeight":"bold","titleColor":"#111","titleY":24.6,"titleBaseline":"middle"}},
   "x2":{"datum":60},
   "y":{"datum":164.3,"type":"quantitative","scale":{"domain":[200,400],"range":[324,219.3],"nice":false,"zero":false},
        "axis":{"orient":"left","offset":-279.3,"values":[200,250,300,350,400],"tickSize":3,"tickColor":"#000","labelFont":"Liberation Serif","labelFontSize":9,"labelColor":"#111","labelPadding":1,"title":"Specific capacity (mAh g⁻¹)","titleFont":"Liberation Serif","titleFontSize":11.5,"titleFontWeight":"bold","titleColor":"#111","titleX":-30.3,"titleBaseline":"middle"}},
   "y2":{"datum":421}}},
 {"data":{"name":"e"},"transform":[{"filter":"datum.s == 's1'"}],"mark":{"type":"line","strokeWidth":1,"color":"#a0409f"},
  "encoding":{"x":{"field":"n","type":"quantitative"},"y":{"field":"v","type":"quantitative"}}},
 {"data":{"name":"e"},"transform":[{"filter":"datum.s == 's2'"}],"mark":{"type":"line","strokeWidth":1,"color":"#2b3ea3"},
  "encoding":{"x":{"field":"n","type":"quantitative"},"y":{"field":"v","type":"quantitative"}}},
 {"data":{"name":"e"},"transform":[{"filter":"datum.s == 's5'"}],"mark":{"type":"line","strokeWidth":1,"color":"#ee2e2e"},
  "encoding":{"x":{"field":"n","type":"quantitative"},"y":{"field":"v","type":"quantitative"}}},
 {"data":{"name":"e"},"mark":{"type":"point","filled":true,"size":17,"strokeWidth":1,"opacity":1},
  "encoding":{"x":{"field":"n","type":"quantitative"},"y":{"field":"v","type":"quantitative"},
   "stroke":{"field":"s","type":"nominal","scale":{"domain":["s1","s2","s5"],"range":["#a0409f","#2b3ea3","#ee2e2e"]},"legend":null},
   "fill":{"field":"s","type":"nominal","scale":{"domain":["s1","s2","s5"],"range":["#a0409f","#2b3ea3","#ffffff"]},"legend":null},
   "shape":{"field":"s","type":"nominal","scale":{"domain":["s1","s2","s5"],"range":["triangle-down","diamond","circle"]},"legend":null}}},
 {"data":{"values":[{}]},"mark":{"type":"text","text":"e","font":"Liberation Sans","fontSize":22,"fontWeight":"bold","align":"center","baseline":"alphabetic","color":"#000"},
  "encoding":{"x":{"datum":-14.64,"type":"quantitative"},"y":{"datum":404.4,"type":"quantitative"}}}
]},
{"data":{"name":"e"},"transform":[{"filter":"datum.n == 1"}],
 "mark":{"type":"point","filled":true,"size":17,"opacity":0},
 "encoding":{
  "x":{"field":"n","type":"quantitative","scale":{"domain":[0,60],"range":[279.3,454.7],"nice":false,"zero":false},"axis":null},
  "y":{"field":"v","type":"quantitative","scale":{"domain":[200,400],"range":[324,219.3],"nice":false,"zero":false},"axis":null},
  "shape":{"field":"s","type":"nominal","scale":{"domain":["s1","s2","s5"],"range":["M-1.5,0L1.5,0M-0.5,-0.4L0.5,-0.4L0,0.45Z","M-1.5,0L1.5,0M0,-0.55L0.45,0L0,0.55L-0.45,0Z","M-1.5,0L-0.45,0M0.45,0L1.5,0M-0.45,0A0.45,0.45,0,1,0,0.45,0A0.45,0.45,0,1,0,-0.45,0Z"]},
   "legend":{"orient":"none","legendX":374.8,"legendY":213,"title":null,"padding":0,"symbolSize":144,"symbolOpacity":1,"symbolStrokeWidth":1.1,"labelFont":"Liberation Serif","labelFontSize":10.5,"labelFontWeight":"bold","labelOffset":5.9,"rowPadding":4.3,
    "labelColor":{"expr":"datum.value == 's1' ? '#a0409f' : datum.value == 's2' ? '#2b3ea3' : '#ee2e2e'"},
    "labelExpr":"datum.value == 's1' ? '0.1M MnSO₄' : datum.value == 's2' ? '0.2M MnSO₄' : '0.5M MnSO₄'"}},
  "fill":{"field":"s","type":"nominal","scale":{"domain":["s1","s2","s5"],"range":["#a0409f","#2b3ea3","#ffffff"]},
   "legend":{"orient":"none","legendX":374.8,"legendY":213,"title":null,"padding":0,"symbolSize":144,"symbolOpacity":1,"symbolStrokeWidth":1.1,"labelFont":"Liberation Serif","labelFontSize":10.5,"labelFontWeight":"bold","labelOffset":5.9,"rowPadding":4.3,
    "labelColor":{"expr":"datum.value == 's1' ? '#a0409f' : datum.value == 's2' ? '#2b3ea3' : '#ee2e2e'"},
    "labelExpr":"datum.value == 's1' ? '0.1M MnSO₄' : datum.value == 's2' ? '0.2M MnSO₄' : '0.5M MnSO₄'"}},
  "stroke":{"field":"s","type":"nominal","scale":{"domain":["s1","s2","s5"],"range":["#a0409f","#2b3ea3","#ee2e2e"]},
   "legend":{"orient":"none","legendX":374.8,"legendY":213,"title":null,"padding":0,"symbolSize":144,"symbolOpacity":1,"symbolStrokeWidth":1.1,"labelFont":"Liberation Serif","labelFontSize":10.5,"labelFontWeight":"bold","labelOffset":5.9,"rowPadding":4.3,
    "labelColor":{"expr":"datum.value == 's1' ? '#a0409f' : datum.value == 's2' ? '#2b3ea3' : '#ee2e2e'"},
    "labelExpr":"datum.value == 's1' ? '0.1M MnSO₄' : datum.value == 's2' ? '0.2M MnSO₄' : '0.5M MnSO₄'"}}
 }}
]
}
